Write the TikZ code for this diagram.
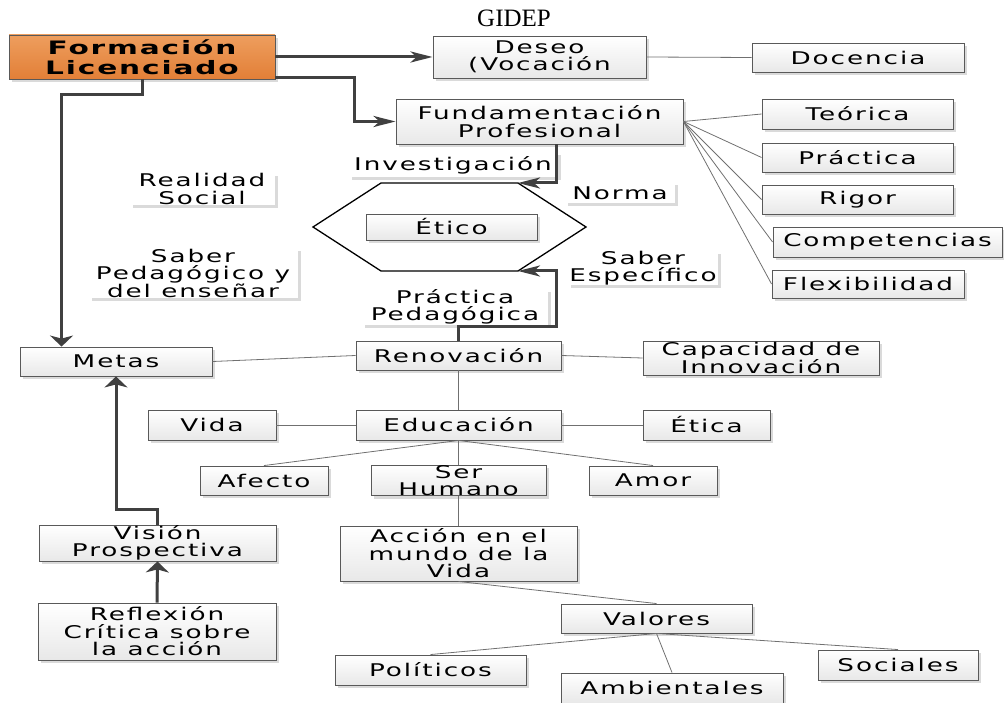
\documentclass[tikz,border=0pt]{standalone}
\usepackage{fontspec}
\setmainfont{Liberation Serif}
\newfontfamily\boxfamily{DejaVu Sans}[FakeStretch=1.5,LetterSpace=11]
\newfontfamily\headfamily{DejaVu Sans}[FakeStretch=1.6,LetterSpace=10]
\usetikzlibrary{arrows.meta,shadows,calc}

\definecolor{orangeT}{HTML}{EE9E5E}
\definecolor{orangeB}{HTML}{E27F37}
\definecolor{boxline}{HTML}{595959}
\definecolor{flowcol}{HTML}{404040}
\definecolor{linkcol}{HTML}{707070}
\definecolor{shadowcol}{HTML}{DADADA}

\tikzset{
  x=1pt, y=-1pt,
  boxtext/.style={font=\boxfamily\fontsize{17.5}{17.5}\selectfont},
  box/.style={draw=boxline, line width=0.9pt, top color=white, bottom color=black!9,
    drop shadow={shadow xshift=3pt, shadow yshift=-3pt, fill=shadowcol, opacity=1},
    inner sep=0pt, align=center, boxtext, text=black},
  headbox/.style={box, top color=orangeT, bottom color=orangeB,
    font=\headfamily\bfseries\fontsize{18.5}{20}\selectfont},
  lbl/.style={fill=white, draw=none,
    drop shadow={shadow xshift=3pt, shadow yshift=-3pt, fill=shadowcol, opacity=1},
    inner sep=0pt, align=center, boxtext, text=black},
  dims/.style 2 args={minimum width=#1, minimum height=#2},
  link/.style={draw=linkcol, line width=0.8pt},
  flow/.style={draw=flowcol, line width=3pt},
  hhead/.style={-{Stealth[length=22pt,width=11pt,inset=6pt]}},
  vhead/.style={-{Stealth[length=11pt,width=23pt,inset=3pt]}},
}

\begin{document}
\begin{tikzpicture}
\useasboundingbox (0,0) rectangle (1004,703);

% title
\node[anchor=base, font=\fontsize{25}{28}\selectfont, inner sep=0pt] (title) at (514,27) {GIDEP};

% hexagon around the ethical core
\coordinate (hexW)  at (313,227);
\coordinate (hexNW) at (381,183);
\coordinate (hexNE) at (518,183);
\coordinate (hexE)  at (586,227);
\coordinate (hexSE) at (518,271);
\coordinate (hexSW) at (381,271);
\draw[line width=1.3pt, fill=white] (hexW) -- (hexNW) -- (hexNE) -- (hexE) -- (hexSE) -- (hexSW) -- cycle;

% free labels
\node[lbl, dims={209}{25}] (inv)   at (453,165)   {Investigación};
\node[lbl, dims={110}{21}] (norma) at (620,193)   {Norma};
\node[lbl, dims={145}{30}] (real)  at (202,189)   {Realidad\\Social};
\node[lbl, dims={209}{50}] (sped)  at (193,273)   {Saber\\Pedagógico y\\del enseñar};
\node[lbl, dims={150}{31}] (sesp)  at (643,268)   {Saber\\Específico};
\node[lbl, dims={186}{30}] (ppeda) at (455,307)   {Práctica\\Pedagógica};

% boxes
\node[headbox, dims={266}{44}] (form) at (142,57) {Formación\\Licenciado};
\node[box, dims={213}{42}] (deseo)  at (539.5,57)   {Deseo\\(Vocación};
\node[box, dims={212}{29}] (doc)    at (858,57.5)   {Docencia};
\node[box, dims={287}{45}] (fund)   at (539.5,121.5){Fundamentación\\Profesional};
\node[box, dims={191}{30}] (teor)   at (857.5,114)  {Teórica};
\node[box, dims={191}{29}] (prac)   at (857.5,157.5){Práctica};
\node[box, dims={191}{29}] (rigor)  at (857.5,199.5){Rigor};
\node[box, dims={229}{30}] (comp)   at (887.5,242)  {Competencias};
\node[box, dims={192}{28}] (flex)   at (868,284)    {Flexibilidad};
\node[box, dims={171}{26}] (etico)  at (451.5,227)  {Ético};
\node[box, dims={192}{29}] (metas)  at (116,361.5)  {Metas};
\node[box, dims={205}{29}] (renov)  at (458.5,355.5){Renovación};
\node[box, dims={236}{34}] (capac)  at (761,358)    {Capacidad de\\Innovación};
\node[box, dims={128}{30}] (vida)   at (212,425)    {Vida};
\node[box, dims={205}{30}] (educ)   at (458.5,425)  {Educación};
\node[box, dims={127}{30}] (etica)  at (706.5,425)  {Ética};
\node[box, dims={128}{29}] (afecto) at (264,480.5)  {Afecto};
\node[box, dims={175}{29}] (ser)    at (458.5,480.5){Ser\\Humano};
\node[box, dims={128}{29}] (amor)   at (653,480.5)  {Amor};
\node[box, dims={237}{36}] (vision) at (157.5,543)  {Visión\\Prospectiva};
\node[box, dims={238}{57}] (reflex) at (157,631.5)  {Reflexión\\Crítica sobre\\la acción};
\node[box, dims={237}{55}] (accion) at (458.5,553.5){Acción en el\\mundo de la\\Vida};
\node[box, dims={191}{29}] (valores) at (656.5,618.5){Valores};
\node[box, dims={191}{30}] (polit)  at (430.5,670)  {Políticos};
\node[box, dims={222}{30}] (ambi)   at (672,688)    {Ambientales};
\node[box, dims={160}{30}] (soc)    at (898,665)    {Sociales};

% thin links
\draw[link] (deseo.east) -- (doc.west);
\foreach \t in {teor,prac,rigor,comp,flex}
  \draw[link] (fund.east) -- (\t.west);
\draw[link] (metas.east) -- (renov.west);
\draw[link] (renov.east) -- (capac.west);
\draw[link] (renov.south) -- (educ.north);
\draw[link] (vida.east) -- (educ.west);
\draw[link] (educ.east) -- (etica.west);
\draw[link] (educ.south) -- (afecto.north);
\draw[link] (educ.south) -- (ser.north);
\draw[link] (educ.south) -- (amor.north);
\draw[link] (ser.south) -- (accion.north);
\draw[link] (accion.south) -- (valores.north);
\draw[link] (valores.south) -- (polit.north);
\draw[link] (valores.south) -- (ambi.north);
\draw[link] (valores.south) -- (soc.north);

% main flows
\draw[flow, hhead] (form.east) -- (deseo.west);
\draw[flow, hhead] ($(form.south east)+(0,-2)$) -- ++(79,0) |- (fund.west);
\draw[flow, vhead] (form.south) -- ++(0,15) -| ($(metas.north west)+(42,0)$);
\draw[flow, hhead] ($(fund.south east)+(-127,0)$) |- (hexNE);
\draw[flow, hhead] (renov.north) -- ++(0,-14) -- ++(97.5,0) |- (hexSE);
\draw[flow, vhead] (reflex.north) -- (vision.south);
\draw[flow, vhead] (vision.north) -- ++(0,-15) -| (metas.south);
\end{tikzpicture}
\end{document}
